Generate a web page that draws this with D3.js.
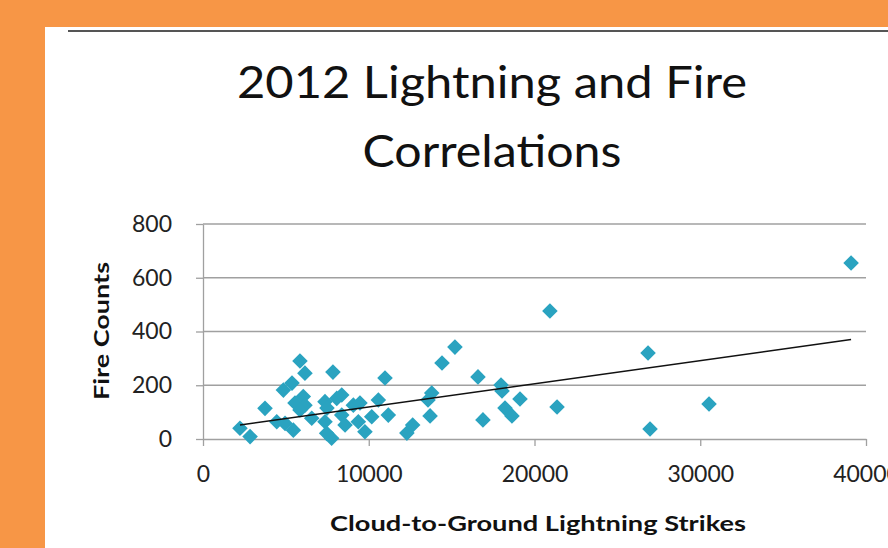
<!DOCTYPE html>
<html>
<head>
<meta charset="utf-8">
<script src="https://cdn.jsdelivr.net/npm/d3@7"></script>
<style>
  body { margin: 0; background: #f79646; }
  svg { display: block; }
</style>
</head>
<body>
<svg id="chart" width="888" height="548"></svg>
<script>
// values
const lightningStrikes = [2230, 2840, 3740, 4450, 4850, 4950, 5370, 5450, 5550, 5850,
  6050, 6150, 6150, 6560, 7360, 7360, 7460, 7760, 7840, 8070,
  8370, 8370, 8570, 9070, 9370, 9770, 10180, 10580, 10980, 11180,
  12300, 12650, 13575, 13800, 13700, 14420, 15200, 16590, 16890, 17980,
  18040, 18220, 18640, 19125, 20930, 21360, 26850, 26970, 30530, 39100,
  5850, 7480, 9470];
const fireCounts = [40, 9, 114, 64, 182, 58, 208, 33, 134, 290,
  158, 245, 126, 77, 139, 64, 21, 3, 249, 151,
  164, 89, 52, 126, 64, 27, 83, 145, 227, 89,
  22, 52, 145, 171, 86, 283, 342, 231, 71, 201,
  179, 115, 86, 149, 476, 119, 320, 37, 130, 655,
  108, 115, 134];
// trendline ends as drawn in the picture
const trendStrikes = [2230, 39100];
const trendFires = [52, 370];
const xTicks = [0, 10000, 20000, 30000, 40000];
const yTicks = [0, 200, 400, 600, 800];

const svg = d3.select('#chart');

// white card on the orange background
svg.append('rect')
  .attr('x', 45).attr('y', 27)
  .attr('width', 843).attr('height', 521)
  .attr('fill', '#fff');
svg.append('line')
  .attr('x1', 68).attr('x2', 888)
  .attr('y1', 31).attr('y2', 31)
  .attr('stroke', '#555').attr('stroke-width', 2);

const x = d3.scaleLinear().domain([0, 40000]).range([203, 866]);
const y = d3.scaleLinear().domain([0, 800]).range([439, 224]);

const grid = '#a0a0a0';

// gridlines
svg.append('g').selectAll('line')
  .data(yTicks.filter(d => d > 0))
  .enter()
  .append('line')
    .attr('x1', x(0)).attr('x2', x(40000))
    .attr('y1', d => y(d)).attr('y2', d => y(d))
    .attr('stroke', grid).attr('stroke-width', 1.3);

const yAxis = svg.append('g')
  .attr('transform', `translate(${x(0)},0)`)
  .call(d3.axisLeft(y).tickValues(yTicks).tickFormat(d3.format('d'))
    .tickSize(7).tickPadding(24).tickSizeOuter(0));

const xAxis = svg.append('g')
  .attr('transform', `translate(0,${y(0)})`)
  .call(d3.axisBottom(x).tickValues(xTicks).tickFormat(d3.format('d'))
    .tickSize(7).tickPadding(20).tickSizeOuter(0));

[xAxis, yAxis].forEach(a => {
  a.select('.domain').attr('stroke', grid).attr('stroke-width', 1.3);
  a.selectAll('.tick line').attr('stroke', grid).attr('stroke-width', 1.3);
  a.selectAll('.tick text')
    .attr('fill', '#222')
    .style('font-family', 'Lato, sans-serif')
    .style('font-size', '23px');
});

// points
const pts = lightningStrikes.map((d, i) => [d, fireCounts[i]]);
const diamond = d3.symbol().type(d3.symbolDiamond2).size(155);
svg.append('g').selectAll('path')
  .data(pts)
  .enter()
  .append('path')
    .attr('d', diamond)
    .attr('transform', d => `translate(${x(d[0])},${y(d[1])})`)
    .attr('fill', '#2aa3c0');

// linear trendline
const trend = trendStrikes.map((d, i) => [d, trendFires[i]]);
svg.append('path')
  .datum(trend)
  .attr('d', d3.line().x(d => x(d[0])).y(d => y(d[1])))
  .attr('fill', 'none')
  .attr('stroke', '#111').attr('stroke-width', 1.5);

// titles
const title = svg.append('g')
  .style('font-family', 'Lato, sans-serif')
  .style('font-size', '44px')
  .attr('fill', '#111');
title.append('text')
  .attr('x', 492).attr('y', 98)
  .attr('text-anchor', 'middle')
  .attr('textLength', 510).attr('lengthAdjust', 'spacingAndGlyphs')
  .text('2012 Lightning and Fire');
title.append('text')
  .attr('x', 492).attr('y', 167)
  .attr('text-anchor', 'middle')
  .attr('textLength', 259).attr('lengthAdjust', 'spacingAndGlyphs')
  .text('Correlations');

svg.append('text')
  .attr('transform', 'translate(109,331) rotate(-90)')
  .attr('text-anchor', 'middle')
  .attr('textLength', 138).attr('lengthAdjust', 'spacingAndGlyphs')
  .style('font-family', 'Lato, sans-serif')
  .style('font-size', '20px')
  .style('font-weight', 'bold')
  .attr('fill', '#111')
  .text('Fire Counts');

svg.append('text')
  .attr('x', 538).attr('y', 531)
  .attr('text-anchor', 'middle')
  .attr('textLength', 416).attr('lengthAdjust', 'spacingAndGlyphs')
  .style('font-family', 'Lato, sans-serif')
  .style('font-size', '20px')
  .style('font-weight', 'bold')
  .attr('fill', '#111')
  .text('Cloud-to-Ground Lightning Strikes');
</script>
</body>
</html>
